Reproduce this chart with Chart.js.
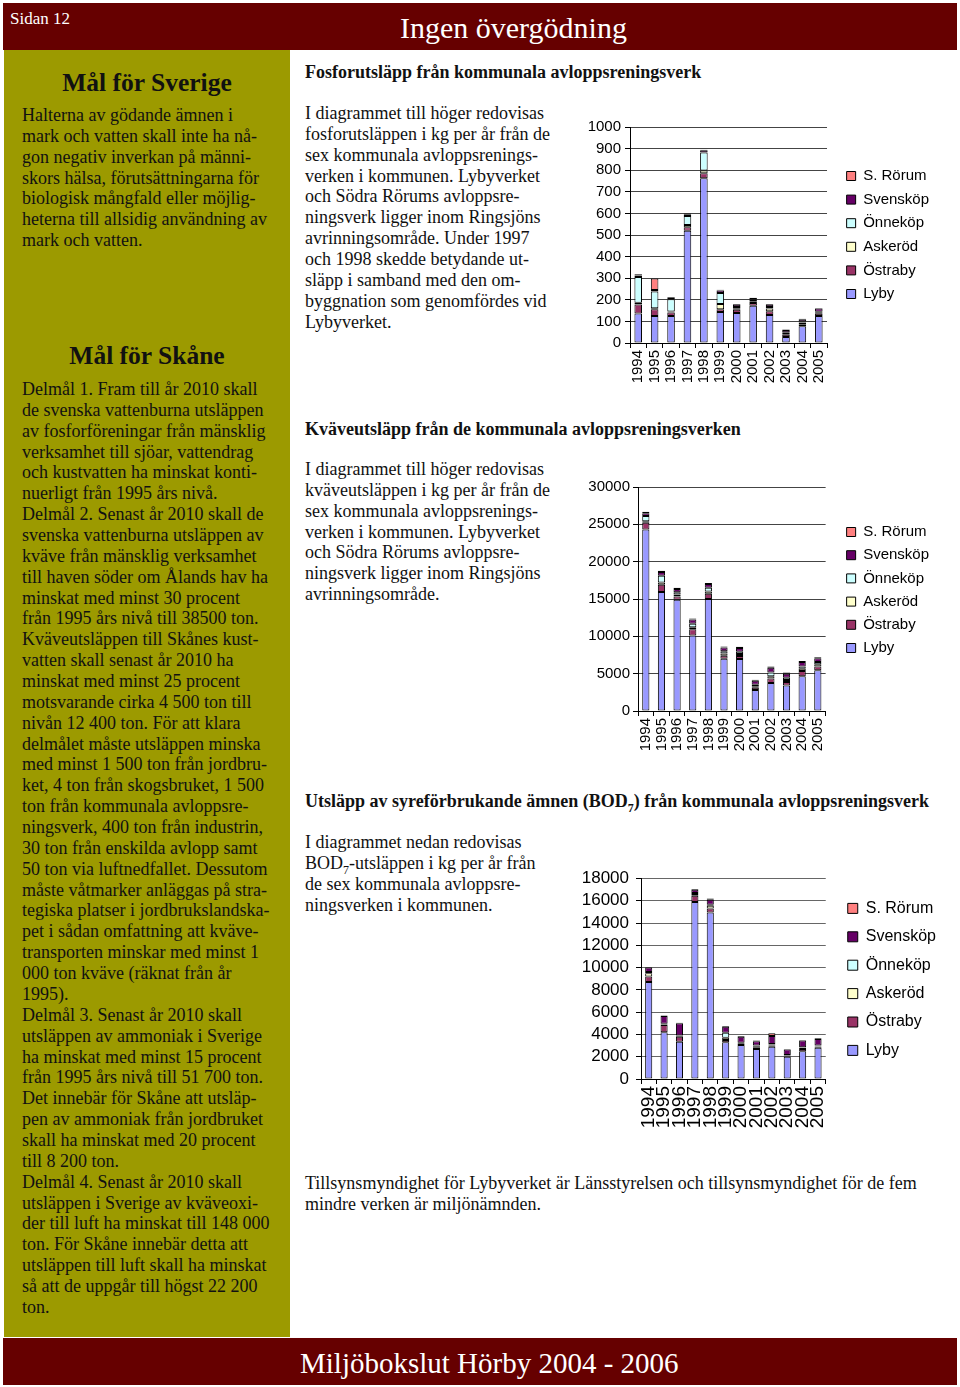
<!DOCTYPE html>
<html lang="sv">
<head>
<meta charset="utf-8">
<title>Ingen övergödning</title>
<script src="https://cdn.jsdelivr.net/npm/chart.js@4"></script>
<style>
  html, body { margin: 0; padding: 0; background: #fff; }
  body { width: 960px; height: 1387px; position: relative; overflow: hidden;
         font-family: 'Liberation Serif', 'Times New Roman', serif; color: #111; }
  .band { position: absolute; left: 3px; width: 954px; height: 47px; background: #660000; }
  .abs { position: absolute; white-space: nowrap; }
  .txt { font-size: 18px; line-height: 20.86px; }
  .head { font-size: 18px; line-height: 20.86px; font-weight: bold; }
  .big { font-size: 25.5px; line-height: 30px; font-weight: bold; width: 286px; left: 4px; text-align: center; }
  .white { color: #fff; }
  #side { position: absolute; left: 4px; top: 50px; width: 286px; height: 1287px; background: #9c9a00; }
  canvas { position: absolute; }
</style>
</head>
<body>
<div class="band" style="top:3px"></div>
<div class="abs white" style="left:10px;top:9px;font-size:17px;line-height:20px">Sidan 12</div>
<div class="abs white" style="left:400px;top:10px;font-size:30px;line-height:36px">Ingen övergödning</div>

<div id="side"></div>
<div class="abs big" style="top:68px">Mål för Sverige</div>
<div class="abs txt" style="left:22px;top:105px">Halterna av gödande ämnen i<br>mark och vatten skall inte ha nå-<br>gon negativ inverkan på männi-<br>skors hälsa, förutsättningarna för<br>biologisk mångfald eller möjlig-<br>heterna till allsidig användning av<br>mark och vatten.</div>
<div class="abs big" style="top:341px">Mål för Skåne</div>
<div class="abs txt" style="left:22px;top:379px">Delmål 1. Fram till år 2010 skall<br>de svenska vattenburna utsläppen<br>av fosforföreningar från mänsklig<br>verksamhet till sjöar, vattendrag<br>och kustvatten ha minskat konti-<br>nuerligt från 1995 års nivå.<br>Delmål 2. Senast år 2010 skall de<br>svenska vattenburna utsläppen av<br>kväve från mänsklig verksamhet<br>till haven söder om Ålands hav ha<br>minskat med minst 30 procent<br>från 1995 års nivå till 38500 ton.<br>Kväveutsläppen till Skånes kust-<br>vatten skall senast år 2010 ha<br>minskat med minst 25 procent<br>motsvarande cirka 4 500 ton till<br>nivån 12 400 ton. För att klara<br>delmålet måste utsläppen minska<br>med minst 1 500 ton från jordbru-<br>ket, 4 ton från skogsbruket, 1 500<br>ton från kommunala avloppsre-<br>ningsverk, 400 ton från industrin,<br>30 ton från enskilda avlopp samt<br>50 ton via luftnedfallet. Dessutom<br>måste våtmarker anläggas på stra-<br>tegiska platser i jordbrukslandska-<br>pet i sådan omfattning att kväve-<br>transporten minskar med minst 1<br>000 ton kväve (räknat från år<br>1995).<br>Delmål 3. Senast år 2010 skall<br>utsläppen av ammoniak i Sverige<br>ha minskat med minst 15 procent<br>från 1995 års nivå till 51 700 ton.<br>Det innebär för Skåne att utsläp-<br>pen av ammoniak från jordbruket<br>skall ha minskat med 20 procent<br>till 8 200 ton.<br>Delmål 4. Senast år 2010 skall<br>utsläppen i Sverige av kväveoxi-<br>der till luft ha minskat till 148 000<br>ton. För Skåne innebär detta att<br>utsläppen till luft skall ha minskat<br>så att de uppgår till högst 22 200<br>ton.</div>

<div class="abs head" style="left:305px;top:62px">Fosforutsläpp från kommunala avloppsreningsverk</div>
<div class="abs txt" style="left:305px;top:103px">I diagrammet till höger redovisas<br>fosforutsläppen i kg per år från de<br>sex kommunala avloppsrenings-<br>verken i kommunen. Lybyverket<br>och Södra Rörums avloppsre-<br>ningsverk ligger inom Ringsjöns<br>avrinningsområde. Under 1997<br>och 1998 skedde betydande ut-<br>släpp i samband med den om-<br>byggnation som genomfördes vid<br>Lybyverket.</div>

<div class="abs head" style="left:305px;top:419px">Kväveutsläpp från de kommunala avloppsreningsverken</div>
<div class="abs txt" style="left:305px;top:459px">I diagrammet till höger redovisas<br>kväveutsläppen i kg per år från de<br>sex kommunala avloppsrenings-<br>verken i kommunen. Lybyverket<br>och Södra Rörums avloppsre-<br>ningsverk ligger inom Ringsjöns<br>avrinningsområde.</div>

<div class="abs head" style="left:305px;top:791px">Utsläpp av syreförbrukande ämnen (BOD<sub style="font-size:12px;line-height:0">7</sub>) från kommunala avloppsreningsverk</div>
<div class="abs txt" style="left:305px;top:832px">I diagrammet nedan redovisas<br>BOD<sub style="font-size:12px;line-height:0">7</sub>-utsläppen i kg per år från<br>de sex kommunala avloppsre-<br>ningsverken i kommunen.</div>

<div class="abs txt" style="left:305px;top:1173px">Tillsynsmyndighet för Lybyverket är Länsstyrelsen och tillsynsmyndighet för de fem<br>mindre verken är miljönämnden.</div>

<div class="band" style="top:1338px"></div>
<div class="abs white" style="left:300px;top:1345px;font-size:29px;line-height:36px">Miljöbokslut Hörby 2004 - 2006</div>

<canvas id="fosfor" style="left:575px;top:112px" width="364" height="279"></canvas>
<canvas id="kvave" style="left:575px;top:472px" width="364" height="287"></canvas>
<canvas id="bod" style="left:575px;top:863px" width="371" height="271"></canvas>

<script>
const years = ['1994','1995','1996','1997','1998','1999','2000','2001','2002','2003','2004','2005'];
const stations = ['Lyby', 'Östraby', 'Askeröd', 'Önneköp', 'Svensköp', 'S. Rörum'];
const stationColors = ['#9999ff', '#993366', '#ffffcc', '#ccffff', '#660066', '#ff8080'];

// fosfor, kg per år
const fosLyby     = [136, 125, 125, 520, 763, 144, 139, 173, 130, 28, 77, 125];
const fosOstraby  = [42, 31, 16, 16, 23, 12, 15, 12, 17, 10, 10, 10];
const fosAskerod  = [8, 5, 5, 10, 13, 24, 5, 8, 13, 8, 8, 5];
const fosOnnekop  = [120, 78, 57, 42, 83, 52, 8, 7, 7, 4, 5, 5];
const fosSvenskop = [7, 6, 7, 8, 10, 11, 10, 8, 10, 10, 10, 15];
const fosRorum    = [5, 54, 3, 3, 3, 3, 3, 2, 3, 2, 2, 2];

// kväve, kg per år
const kvLyby     = [24300, 15950, 14900, 10100, 15000, 7000, 6950, 2800, 3750, 3400, 4650, 5450];
const kvOstraby  = [900, 950, 450, 850, 700, 400, 400, 300, 600, 500, 700, 500];
const kvAskerod  = [200, 300, 250, 250, 300, 300, 300, 200, 300, 250, 300, 300];
const kvOnnekop  = [700, 900, 300, 500, 500, 300, 300, 200, 500, 300, 300, 300];
const kvSvenskop = [400, 500, 450, 550, 500, 500, 500, 550, 650, 550, 600, 500];
const kvRorum     = [200, 200, 150, 150, 150, 150, 150, 150, 150, 150, 150, 150];

// BOD7, kg per år
const bodLyby     = [8700, 4200, 3350, 15900, 14950, 3300, 3050, 2700, 2900, 2000, 2500, 2800];
const bodOstraby  = [500, 650, 450, 550, 350, 200, 100, 150, 100, 50, 200, 100];
const bodAskerod  = [300, 50, 50, 150, 250, 200, 50, 100, 100, 50, 100, 50];
const bodOnnekop  = [100, 50, 50, 100, 100, 450, 50, 50, 50, 50, 50, 50];
const bodSvenskop = [400, 700, 1100, 300, 450, 550, 550, 400, 700, 500, 600, 600];
const bodRorum    = [50, 50, 50, 50, 100, 50, 50, 50, 250, 50, 50, 50];

Chart.defaults.font.family = "'Liberation Sans', Arial, sans-serif";
Chart.defaults.color = '#000';

function stackedChart(id, series, o) {
  const datasets = series.map((data, i) => ({
    label: stations[i],
    data,
    backgroundColor: stationColors[i],
    borderColor: '#000',
    borderWidth: 1,
    borderSkipped: false,
    barPercentage: 0.46,
    categoryPercentage: 1
  }));
  return new Chart(document.getElementById(id), {
    type: 'bar',
    data: { labels: years, datasets },
    options: {
      responsive: false,
      animation: false,
      layout: { padding: { top: 15, left: 0, right: 0, bottom: 0 } },
      plugins: {
        tooltip: { enabled: false },
        legend: {
          position: 'right',
          align: 'start',
          reverse: true,
          maxWidth: 200,
          title: { display: true, text: '', font: { size: 10, lineHeight: 1 },
                   padding: { top: o.legendTop, bottom: 0 } },
          labels: { boxWidth: o.box, boxHeight: o.box, padding: o.legendPad,
                    color: '#000', font: { size: o.legendFont } }
        }
      },
      scales: {
        x: {
          stacked: true,
          grid: { display: true, drawOnChartArea: false, offset: true, color: '#000', tickLength: 5 },
          border: { color: '#000', width: 1 },
          ticks: { autoSkip: false, minRotation: 90, maxRotation: 90, padding: 2,
                   font: { size: o.xFont }, color: '#000' },
          afterFit: s => { s.height = o.xHeight; }
        },
        y: {
          stacked: true,
          min: 0, max: o.max,
          grid: { color: o.gridColor, tickColor: '#000', tickLength: 5 },
          border: { color: '#000', width: 1 },
          ticks: { stepSize: o.step, autoSkip: false, padding: o.yPad,
                   font: { size: o.yFont, lineHeight: 1 }, color: '#000',
                   callback: v => String(v) },
          afterFit: s => { s.width = o.yWidth; }
        },
        gap: {
          type: 'linear',
          position: 'right',
          grid: { display: false },
          border: { display: false },
          ticks: { display: false },
          afterFit: s => { s.width = o.gap; }
        }
      }
    }
  });
}

stackedChart('fosfor', [fosLyby, fosOstraby, fosAskerod, fosOnnekop, fosSvenskop, fosRorum], {
  max: 1000, step: 100, yWidth: 55, yPad: 4, yFont: 15, xFont: 15, xHeight: 48,
  gridColor: '#444', gap: 11, box: 9, legendPad: 8.6, legendFont: 15, legendTop: 22.9
});
stackedChart('kvave', [kvLyby, kvOstraby, kvAskerod, kvOnnekop, kvSvenskop, kvRorum], {
  max: 30000, step: 5000, yWidth: 63, yPad: 3, yFont: 15, xFont: 15, xHeight: 48,
  gridColor: '#444', gap: 12.8, box: 9, legendPad: 8.2, legendFont: 15, legendTop: 19.3
});
stackedChart('bod', [bodLyby, bodOstraby, bodAskerod, bodOnnekop, bodSvenskop, bodRorum], {
  max: 18000, step: 2000, yWidth: 66, yPad: 7, yFont: 17, xFont: 19, xHeight: 55,
  gridColor: '#666', gap: 9.6, box: 10, legendPad: 12.4, legendFont: 16, legendTop: 0
});
</script>
</body>
</html>
